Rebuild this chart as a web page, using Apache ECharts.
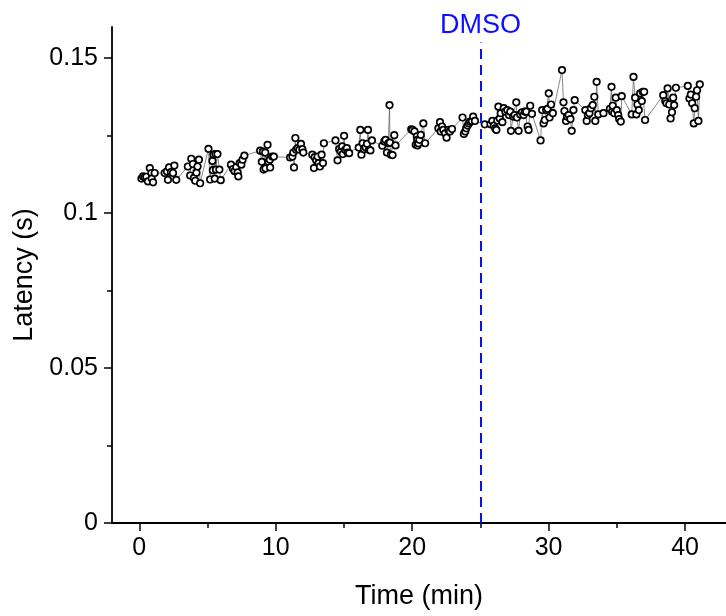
<!DOCTYPE html>
<html>
<head>
<meta charset="utf-8">
<script src="https://cdn.jsdelivr.net/npm/echarts@6/dist/echarts.min.js"></script>
<style>html,body{margin:0;padding:0;background:#fff}#c{width:726px;height:616px}</style>
</head>
<body>
<div id="c"></div>
<script>
const times = [
0.16,0.28,0.40,0.52,0.64,0.77,0.89,0.91,1.01,1.13,
1.86,2.03,2.10,2.18,2.32,2.47,2.57,2.71,
3.56,3.73,3.81,3.93,4.00,4.10,4.19,4.27,4.37,4.46,
5.07,5.19,5.36,5.39,5.43,5.53,5.58,5.62,5.73,5.87,5.97,
6.72,6.87,6.99,7.11,7.21,7.26,7.36,7.48,7.57,7.70,
8.86,8.98,9.06,9.11,9.23,9.25,9.40,9.45,9.57,9.59,9.74,9.86,
11.05,11.22,11.29,11.34,11.44,11.49,11.61,11.73,11.85,11.95,12.02,
12.68,12.80,12.85,12.97,13.07,13.14,13.24,13.36,13.46,13.53,
14.38,14.53,14.65,14.77,14.87,14.92,15.01,15.09,15.21,15.26,15.38,
16.08,16.20,16.28,16.37,16.47,16.59,16.69,16.76,16.84,16.94,17.05,
17.81,17.96,18.05,18.15,18.25,18.34,18.37,18.44,18.56,18.69,18.78,
19.93,20.02,20.17,20.26,20.34,20.37,20.39,20.46,20.53,20.63,20.82,20.95,
21.92,22.04,22.09,22.19,22.28,22.41,22.52,22.65,22.77,22.92,
23.69,23.79,23.89,23.96,24.06,24.16,24.25,24.38,24.47,24.60,
25.32,25.74,25.88,25.98,26.08,26.17,26.24,26.32,26.42,26.49,26.61,26.71,26.83,26.97,27.10,
27.19,27.24,27.40,27.51,27.63,27.68,27.80,27.92,28.05,28.17,28.26,28.36,28.46,28.53,28.65,28.78,
29.41,29.53,29.63,29.72,29.82,29.92,30.01,30.07,30.18,30.31,
30.98,31.09,31.16,31.28,31.35,31.47,31.60,31.69,31.82,31.91,
32.69,32.79,32.88,32.99,33.10,33.23,33.35,33.42,33.52,33.64,
34.02,34.49,34.61,34.66,34.70,34.81,34.92,35.00,35.10,35.17,35.29,35.36,
36.09,36.22,36.34,36.43,36.51,36.61,36.71,36.83,36.90,37.00,37.07,
38.40,38.55,38.64,38.72,38.84,38.94,39.04,39.13,39.20,39.33,
40.20,40.32,40.42,40.52,40.64,40.71,40.81,40.88,40.98,41.08
];
const latency = [
0.1111,0.1118,0.1115,0.1117,0.1102,0.1145,0.1129,0.1111,0.1099,0.1129,
0.1129,0.1134,0.1107,0.1147,0.1132,0.1129,0.1153,0.1107,
0.1150,0.1121,0.1175,0.1158,0.1113,0.1104,0.1130,0.1150,0.1172,0.1096,
0.1207,0.1108,0.1168,0.1138,0.1188,0.1111,0.1190,0.1140,0.1190,0.1140,0.1106,
0.1156,0.1142,0.1135,0.1148,0.1131,0.1118,0.1161,0.1156,0.1172,0.1185,
0.1201,0.1165,0.1198,0.1140,0.1195,0.1144,0.1220,0.1165,0.1172,0.1147,0.1182,0.1182,
0.1179,0.1182,0.1195,0.1147,0.1242,0.1204,0.1209,0.1204,0.1223,0.1206,0.1195,
0.1188,0.1145,0.1180,0.1170,0.1182,0.1161,0.1150,0.1188,0.1161,0.1225,
0.1234,0.1170,0.1206,0.1198,0.1215,0.1190,0.1249,0.1204,0.1209,0.1195,0.1193,
0.1211,0.1268,0.1188,0.1225,0.1206,0.1212,0.1223,0.1268,0.1204,0.1202,0.1234,
0.1217,0.1231,0.1236,0.1195,0.1225,0.1348,0.1227,0.1188,0.1187,0.1251,0.1218,
0.1270,0.1268,0.1263,0.1220,0.1247,0.1236,0.1218,0.1225,0.1236,0.1252,0.1289,0.1225,
0.1273,0.1293,0.1263,0.1279,0.1268,0.1257,0.1243,0.1268,0.1263,0.1271,
0.1308,0.1255,0.1263,0.1273,0.1282,0.1289,0.1295,0.1297,0.1311,0.1297,
0.1286,0.1286,0.1297,0.1282,0.1273,0.1268,0.1298,0.1343,0.1305,0.1322,0.1293,0.1338,0.1327,0.1332,0.1316,
0.1327,0.1265,0.1311,0.1316,0.1357,0.1308,0.1265,0.1318,0.1325,0.1316,0.1327,0.1327,0.1279,0.1268,0.1346,0.1320,
0.1234,0.1332,0.1289,0.1300,0.1332,0.1336,0.1386,0.1308,0.1350,0.1322,
0.1461,0.1357,0.1329,0.1297,0.1311,0.1316,0.1303,0.1265,0.1332,0.1364,
0.1332,0.1297,0.1316,0.1322,0.1338,0.1348,0.1375,0.1297,0.1423,0.1318,
0.1322,0.1336,0.1407,0.1327,0.1346,0.1322,0.1372,0.1332,0.1316,0.1303,0.1295,0.1377,
0.1318,0.1439,0.1372,0.1318,0.1350,0.1332,0.1386,0.1361,0.1391,0.1391,0.1300,
0.1380,0.1361,0.1354,0.1402,0.1350,0.1305,0.1325,0.1372,0.1348,0.1404,
0.1410,0.1369,0.1382,0.1354,0.1289,0.1338,0.1375,0.1396,0.1297,0.1415
];
const xTicks = [0, 10, 20, 30, 40];
const xMinorTicks = [5, 15, 25, 35];
const yTicks = [0, 0.05, 0.1, 0.15];
const yMinorTicks = [0.025, 0.075, 0.125];
const dmsoTime = 25;
const dmsoLabel = 'DMSO';

const FONT = 'Liberation Sans, Arial, sans-serif';
const chart = echarts.init(document.getElementById('c'));
const pts = times.map((t, i) => [t, latency[i]]);

chart.setOption({
  animation: false,
  grid: { left: 112, top: 27, bottom: 93, right: -4, containLabel: false },
  xAxis: [{
    type: 'value', min: -2, max: 43,
    name: 'Time (min)', nameLocation: 'middle', nameGap: 60,
    nameTextStyle: { fontFamily: FONT, fontSize: 27, color: '#000' },
    axisLine: { show: true, onZero: false, lineStyle: { color: '#000', width: 1.8 } },
    axisTick: { show: true, inside: false, length: 8, customValues: xTicks, lineStyle: { color: '#000', width: 1.5 } },
    axisLabel: { customValues: xTicks, fontFamily: FONT, fontSize: 25, color: '#000', margin: 13 },
    splitLine: { show: false }
  }, {
    type: 'value', min: -2, max: 43, position: 'bottom',
    axisLine: { show: false, onZero: false },
    axisTick: { show: true, length: 5, customValues: xMinorTicks, lineStyle: { color: '#000', width: 1.5 } },
    axisLabel: { show: false },
    splitLine: { show: false }
  }],
  yAxis: [{
    type: 'value', min: 0, max: 0.16,
    name: 'Latency (s)', nameLocation: 'middle', nameGap: 71, nameRotate: 90,
    nameTextStyle: { fontFamily: FONT, fontSize: 27, color: '#000' },
    axisLine: { show: true, onZero: false, lineStyle: { color: '#000', width: 1.8 } },
    axisTick: { show: true, inside: false, length: 8, customValues: yTicks, lineStyle: { color: '#000', width: 1.5 } },
    axisLabel: { customValues: yTicks, fontFamily: FONT, fontSize: 25, color: '#000', margin: 14 },
    splitLine: { show: false }
  }, {
    type: 'value', min: 0, max: 0.16, position: 'left',
    axisLine: { show: false, onZero: false },
    axisTick: { show: true, length: 5, customValues: yMinorTicks, lineStyle: { color: '#000', width: 1.5 } },
    axisLabel: { show: false },
    splitLine: { show: false }
  }],
  series: [{
    type: 'line',
    xAxisIndex: 0, yAxisIndex: 0,
    data: pts,
    symbol: 'circle', symbolSize: 6.5,
    itemStyle: { color: '#fff', borderColor: '#000', borderWidth: 1.7 },
    lineStyle: { color: '#555', width: 0.7 },
    z: 3,
    markLine: {
      silent: true, symbol: 'none',
      lineStyle: { color: '#0f0fff', width: 2, type: [10, 6] },
      label: { show: true, position: 'end', formatter: dmsoLabel, color: '#0f0fff', fontFamily: FONT, fontSize: 27, distance: 3 },
      data: [[{ coord: [dmsoTime, 0] }, { coord: [dmsoTime, 0.155] }]]
    }
  }]
});
</script>
</body>
</html>
